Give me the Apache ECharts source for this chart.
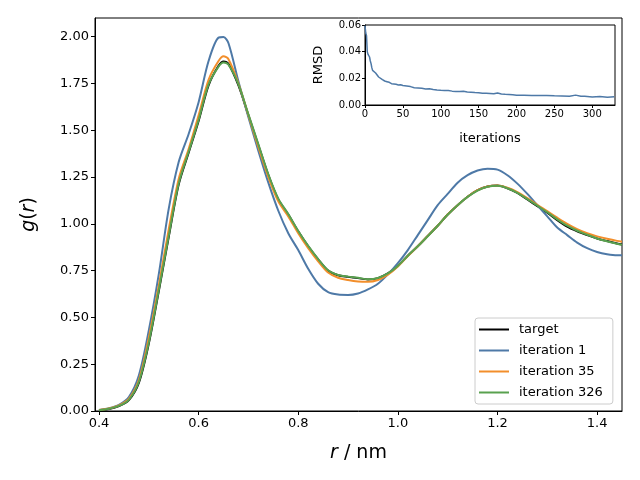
<!DOCTYPE html>
<html>
<head>
<meta charset="utf-8">
<script src="https://cdn.jsdelivr.net/npm/echarts@6/dist/echarts.min.js"></script>
<style>
html, body { margin: 0; padding: 0; background: #fff; }
#main { width: 640px; height: 480px; }
</style>
</head>
<body>
<div id="main"></div>
<script>
// r values (nm)
var r = [0.40, 0.42, 0.44, 0.46, 0.48, 0.50, 0.52, 0.54, 0.56, 0.58,
         0.60, 0.62, 0.64, 0.65, 0.66, 0.68, 0.70, 0.72, 0.74, 0.76, 0.78,
         0.80, 0.82, 0.84, 0.86, 0.88, 0.90, 0.92, 0.94, 0.96, 0.98,
         1.00, 1.02, 1.04, 1.06, 1.08, 1.10, 1.12, 1.14, 1.16, 1.18,
         1.20, 1.22, 1.24, 1.26, 1.28, 1.30, 1.32, 1.34, 1.36, 1.38,
         1.40, 1.42, 1.44, 1.45];

var target = [0.004, 0.011, 0.026, 0.058, 0.15, 0.36, 0.64, 0.93, 1.21, 1.38,
              1.55, 1.74, 1.845, 1.868, 1.855, 1.74, 1.58, 1.42, 1.26, 1.13, 1.05,
              0.96, 0.88, 0.81, 0.75, 0.725, 0.717, 0.71, 0.703, 0.71, 0.735,
              0.775, 0.83, 0.88, 0.935, 0.99, 1.05, 1.10, 1.145, 1.18, 1.20,
              1.205, 1.19, 1.165, 1.13, 1.095, 1.06, 1.02, 0.985, 0.96, 0.94,
              0.922, 0.908, 0.895, 0.89];

var iter1 = [0.006, 0.015, 0.033, 0.075, 0.19, 0.43, 0.73, 1.08, 1.33, 1.48,
             1.65, 1.87, 1.995, 1.998, 1.965, 1.76, 1.57, 1.39, 1.22, 1.07, 0.95,
             0.86, 0.76, 0.68, 0.635, 0.622, 0.62, 0.628, 0.65, 0.68, 0.73,
             0.79, 0.86, 0.94, 1.02, 1.10, 1.16, 1.22, 1.26, 1.285, 1.295,
             1.29, 1.26, 1.215, 1.16, 1.10, 1.04, 0.98, 0.94, 0.90, 0.87,
             0.85, 0.838, 0.832, 0.832];

var iter35 = [0.005, 0.013, 0.03, 0.065, 0.165, 0.39, 0.67, 0.97, 1.24, 1.40,
              1.58, 1.77, 1.87, 1.895, 1.88, 1.75, 1.58, 1.41, 1.25, 1.12, 1.04,
              0.95, 0.87, 0.80, 0.74, 0.712, 0.70, 0.692, 0.69, 0.70, 0.728,
              0.772, 0.828, 0.88, 0.935, 0.99, 1.05, 1.10, 1.145, 1.18, 1.20,
              1.205, 1.193, 1.17, 1.138, 1.102, 1.068, 1.033, 1.0, 0.972, 0.95,
              0.933, 0.92, 0.909, 0.905];

var iter326 = [0.004, 0.012, 0.027, 0.06, 0.155, 0.365, 0.645, 0.935, 1.215, 1.385,
               1.555, 1.745, 1.84, 1.862, 1.85, 1.745, 1.585, 1.425, 1.265, 1.135, 1.052,
               0.962, 0.882, 0.812, 0.752, 0.727, 0.718, 0.712, 0.704, 0.711, 0.735,
               0.775, 0.83, 0.88, 0.934, 0.99, 1.049, 1.10, 1.144, 1.178, 1.198,
               1.203, 1.19, 1.166, 1.132, 1.097, 1.062, 1.024, 0.99, 0.963, 0.942,
               0.922, 0.907, 0.894, 0.888];

// inset: RMSD vs iteration
var rmsdIter = [0, 1, 2, 3, 4, 5, 6, 7, 8, 9, 10, 11, 12, 14, 16, 18, 20, 23, 26, 29,
                32, 35, 38, 41, 44, 47, 50, 55, 60, 65, 70, 75, 80, 85, 90, 95, 100, 105, 110, 115,
                120, 125, 130, 135, 140, 145, 150, 155, 160, 165, 170, 175, 180, 185, 190, 195, 200, 210, 220, 230,
                240, 250, 260, 270, 278, 285, 290, 300, 310, 320, 329];
var rmsdValue = [0.0595, 0.054, 0.052, 0.040, 0.038, 0.038, 0.036, 0.033, 0.031, 0.028, 0.026, 0.025, 0.025, 0.024, 0.023, 0.021, 0.020, 0.019, 0.018, 0.0175,
                 0.017, 0.016, 0.0158, 0.0155, 0.015, 0.0152, 0.0146, 0.0142, 0.0138, 0.013, 0.0128, 0.0125, 0.012, 0.0122, 0.0117, 0.0113, 0.011, 0.0108, 0.0109, 0.0104,
                 0.0102, 0.0101, 0.0103, 0.0098, 0.0096, 0.0093, 0.0092, 0.0089, 0.0088, 0.0086, 0.0084, 0.0090, 0.0083, 0.0080, 0.0078, 0.0076, 0.0074, 0.0073, 0.0072, 0.0071,
                 0.0072, 0.0069, 0.0068, 0.0066, 0.0074, 0.0065, 0.0066, 0.0060, 0.0063, 0.0058, 0.0062];

var rTicks = [0.4, 0.6, 0.8, 1.0, 1.2, 1.4];
var gTicks = [0, 0.25, 0.5, 0.75, 1.0, 1.25, 1.5, 1.75, 2.0];
var iterTicks = [0, 50, 100, 150, 200, 250, 300];
var rmsdTicks = [0, 0.02, 0.04, 0.06];

var seriesNames = ['target', 'iteration 1', 'iteration 35', 'iteration 326'];
var colors = ['#000000', '#4e79a7', '#f28e2b', '#59a14f'];

var font = 'DejaVu Sans';

function pairs(ys) {
    return r.map(function (x, i) { return [x, ys[i]]; });
}

var myChart = echarts.init(document.getElementById('main'));

var gSeries = [target, iter1, iter35, iter326].map(function (ys, i) {
    return {
        name: seriesNames[i],
        type: 'line',
        xAxisIndex: 0,
        yAxisIndex: 0,
        data: pairs(ys),
        showSymbol: false,
        smooth: 0.3,
        color: colors[i],
        lineStyle: { width: 2, color: colors[i] }
    };
});

var option = {
    animation: false,
    backgroundColor: '#fff',
    textStyle: { fontFamily: font, color: '#000' },
    grid: [
        { left: 95, top: 18, width: 527, height: 393, show: true, borderColor: '#000', borderWidth: 1 },
        { left: 365, top: 25, width: 250, height: 80, show: true, borderColor: '#000', borderWidth: 1, backgroundColor: '#fff' }
    ],
    legend: {
        orient: 'vertical',
        left: 475,
        top: 318,
        padding: [5, 10, 5, 4],
        itemGap: 8,
        itemWidth: 30,
        itemHeight: 2,
        icon: 'rect',
        borderColor: '#cccccc',
        borderWidth: 1,
        borderRadius: 3,
        backgroundColor: 'rgba(255,255,255,0.8)',
        textStyle: { fontFamily: font, fontSize: 13, color: '#000', padding: [0, 0, 0, 5] },
        data: seriesNames
    },
    xAxis: [
        {
            gridIndex: 0,
            type: 'value',
            min: 0.392,
            max: 1.45,
            axisLine: { show: true, lineStyle: { color: '#000' } },
            axisTick: { show: true, length: 4, customValues: rTicks, lineStyle: { color: '#000' } },
            axisLabel: { customValues: rTicks, color: '#000', fontSize: 13, margin: 6,
                         formatter: function (v) { return v.toFixed(1); } },
            splitLine: { show: false },
            name: '{i|r} / nm',
            nameLocation: 'middle',
            nameGap: 33,
            nameTextStyle: { fontSize: 19, color: '#000', fontFamily: font,
                             rich: { i: { fontStyle: 'italic', fontSize: 19, fontFamily: font } } }
        },
        {
            gridIndex: 1,
            type: 'value',
            min: 0,
            max: 330,
            axisLine: { show: true, lineStyle: { color: '#000' } },
            axisTick: { show: true, length: 3, customValues: iterTicks, lineStyle: { color: '#000' } },
            axisLabel: { customValues: iterTicks, color: '#000', fontSize: 10, margin: 4 },
            splitLine: { show: false },
            name: 'iterations',
            nameLocation: 'middle',
            nameGap: 27,
            nameTextStyle: { fontSize: 13, color: '#000', fontFamily: font }
        }
    ],
    yAxis: [
        {
            gridIndex: 0,
            type: 'value',
            min: 0,
            max: 2.1,
            axisLine: { show: true, lineStyle: { color: '#000' } },
            axisTick: { show: true, length: 4, customValues: gTicks, lineStyle: { color: '#000' } },
            axisLabel: { customValues: gTicks, color: '#000', fontSize: 13, margin: 6,
                         formatter: function (v) { return v.toFixed(2); } },
            splitLine: { show: false },
            name: '{i|g}({i|r})',
            nameLocation: 'middle',
            nameGap: 56,
            nameRotate: 90,
            nameTextStyle: { fontSize: 19, color: '#000', fontFamily: font,
                             rich: { i: { fontStyle: 'italic', fontSize: 19, fontFamily: font } } }
        },
        {
            gridIndex: 1,
            type: 'value',
            min: 0,
            max: 0.06,
            axisLine: { show: true, lineStyle: { color: '#000' } },
            axisTick: { show: true, length: 3, customValues: rmsdTicks, lineStyle: { color: '#000' } },
            axisLabel: { customValues: rmsdTicks, color: '#000', fontSize: 10, margin: 4,
                         formatter: function (v) { return v.toFixed(2); } },
            splitLine: { show: false },
            name: 'RMSD',
            nameLocation: 'middle',
            nameGap: 40,
            nameRotate: 90,
            nameTextStyle: { fontSize: 13, color: '#000', fontFamily: font }
        }
    ],
    series: gSeries.concat([{
        name: 'RMSD',
        type: 'line',
        xAxisIndex: 1,
        yAxisIndex: 1,
        data: rmsdIter.map(function (it, i) { return [it, rmsdValue[i]]; }),
        showSymbol: false,
        color: '#4e79a7',
        lineStyle: { width: 1.5, color: '#4e79a7' }
    }])
};

myChart.setOption(option);
</script>
</body>
</html>
